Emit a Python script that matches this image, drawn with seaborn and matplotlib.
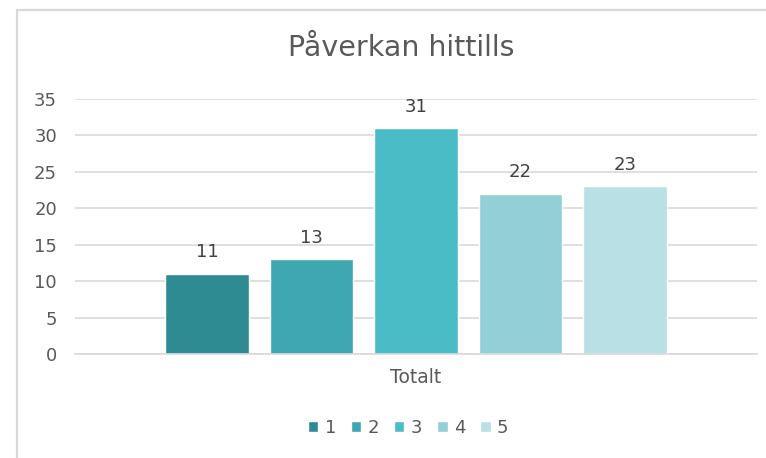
import matplotlib
matplotlib.use("Agg")
import matplotlib.pyplot as plt
import seaborn as sns
import pandas as pd
from matplotlib.lines import Line2D

categories = ["Totalt"]
series = ["1", "2", "3", "4", "5"]
values = [11, 13, 31, 22, 23]
colors = ["#2E8B92", "#3EA7B1", "#4ABCC6", "#93CFD7", "#B9E0E4"]
yticks = [0, 5, 10, 15, 20, 25, 30, 35]
title = "Påverkan hittills"

df = pd.DataFrame({"cat": categories * len(series), "serie": series, "val": values})

sns.set_theme(style="white")
plt.rcParams["font.family"] = ["DejaVu Sans"]

W, H = 766, 458
fig = plt.figure(figsize=(W / 100, H / 100), dpi=100)
ax = fig.add_axes([75 / W, 104 / H, (757 - 75) / W, (354 - 99) / H])

sns.barplot(data=df, x="cat", y="val", hue="serie", palette=colors,
            width=0.766, gap=0.2, ax=ax, legend=True, saturation=1)

ax.set_ylim(0, 35)
ax.set_xlim(-0.5, 0.5)
ax.set_yticks(yticks)
ax.set_yticklabels([str(t) for t in yticks], fontsize=13, color="#595959")
ax.tick_params(axis="x", labelsize=13.5, labelcolor="#595959", length=0, pad=10)
ax.tick_params(axis="y", length=0, pad=13)
ax.set_xlabel("")
ax.set_ylabel("")
ax.yaxis.grid(True, color="#D9D9D9", linewidth=1.2)
ax.set_axisbelow(True)
for s in ["top", "right", "left"]:
    ax.spines[s].set_visible(False)
ax.spines["bottom"].set_color("#D9D9D9")
ax.spines["bottom"].set_linewidth(1.2)

for cont in ax.containers:
    ax.bar_label(cont, fontsize=13, color="#404040", padding=9)

h, l = ax.get_legend_handles_labels()
ax.legend_.remove()
fig.legend(h, l, loc="center", bbox_to_anchor=(408 / W, 1 - 428 / H), ncol=5,
           frameon=False, fontsize=13, labelcolor="#595959",
           handlelength=0.6, handleheight=0.6, handletextpad=0.35, columnspacing=0.8)

fig.text(401 / W, 1 - 48 / H, title, ha="center", va="center", fontsize=20.5, color="#595959")

fig.add_artist(Line2D([16 / W, 1.01], [1 - 10 / H, 1 - 10 / H], color="#D9D9D9",
                      linewidth=1.6, solid_capstyle="butt"))
fig.add_artist(Line2D([17 / W, 17 / W], [-0.01, 1 - 10 / H], color="#D9D9D9",
                      linewidth=1.6, solid_capstyle="butt"))

fig.savefig("out.png", dpi=100, facecolor="white")
